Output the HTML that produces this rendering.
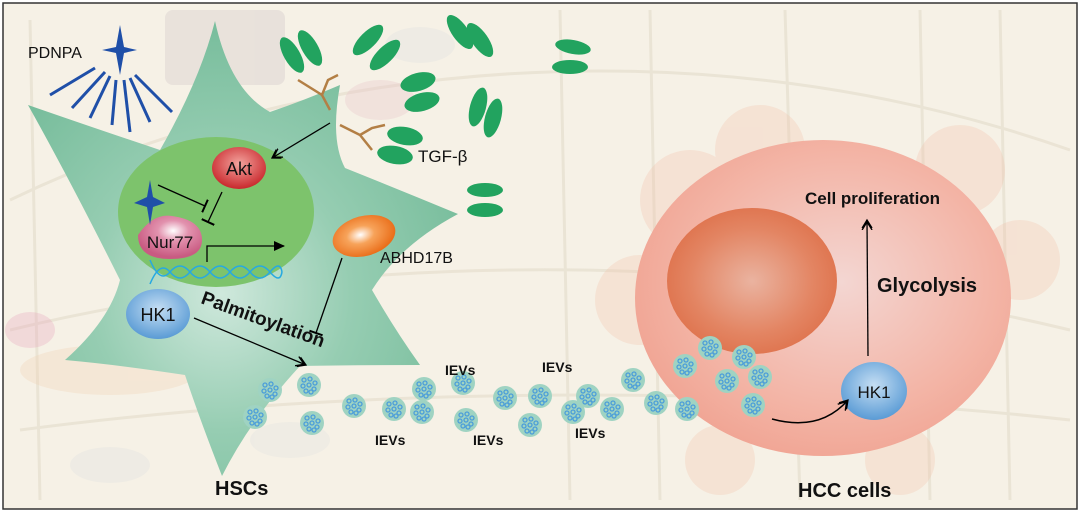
<!DOCTYPE html>
<html><head><meta charset="utf-8"><style>
html,body{margin:0;padding:0;background:#fff}
svg{display:block}
text{font-family:"Liberation Sans",Arial,sans-serif}
</style></head><body>
<svg width="1080" height="512" viewBox="0 0 1080 512" xmlns="http://www.w3.org/2000/svg">
<defs>
<radialGradient id="cellG" cx="0.45" cy="0.6" r="0.6"><stop offset="0" stop-color="#cfe8dc"/><stop offset="0.5" stop-color="#96cdb2"/><stop offset="1" stop-color="#78bd9c"/></radialGradient>
<radialGradient id="hccG" cx="0.55" cy="0.45" r="0.6"><stop offset="0" stop-color="#f3d6d2"/><stop offset="0.7" stop-color="#f3b3a4"/><stop offset="1" stop-color="#f0a392"/></radialGradient>
<radialGradient id="nucG" cx="0.5" cy="0.5" r="0.6"><stop offset="0" stop-color="#eab3a0"/><stop offset="0.6" stop-color="#e38563"/><stop offset="1" stop-color="#dd6c45"/></radialGradient>
<radialGradient id="aktG" cx="0.5" cy="0.4" r="0.6"><stop offset="0" stop-color="#f3a49e"/><stop offset="1" stop-color="#c9272c"/></radialGradient>
<radialGradient id="nurG" cx="0.55" cy="0.35" r="0.6"><stop offset="0" stop-color="#ffffff"/><stop offset="0.4" stop-color="#e292ae"/><stop offset="1" stop-color="#c95b82"/></radialGradient>
<radialGradient id="hkG" cx="0.5" cy="0.4" r="0.6"><stop offset="0" stop-color="#c5def3"/><stop offset="1" stop-color="#5a9bd5"/></radialGradient>
<radialGradient id="abG" cx="0.45" cy="0.45" r="0.55"><stop offset="0" stop-color="#ffffff"/><stop offset="0.4" stop-color="#f7a35a"/><stop offset="1" stop-color="#ea6f1b"/></radialGradient>
<g id="ev"><ellipse cx="0" cy="0" rx="12" ry="12" fill="#9fd3c2"/><g fill="none" stroke="#4c9ed9" stroke-width="1.3"><circle cx="-5" cy="-5" r="2"/><circle cx="1" cy="-6" r="2"/><circle cx="6" cy="-2" r="2"/><circle cx="-6" cy="1" r="2"/><circle cx="0" cy="0" r="2"/><circle cx="5" cy="4" r="2"/><circle cx="-3" cy="6" r="2"/><circle cx="2" cy="7" r="2"/></g></g>
<marker id="dbl" markerWidth="12" markerHeight="12" refX="10" refY="6" orient="auto" markerUnits="userSpaceOnUse"><path d="M2,1 L10,6 L2,11 M0,1 L8,6 L0,11" fill="none" stroke="#000" stroke-width="1.3"/></marker>
<marker id="tri" markerWidth="12" markerHeight="10" refX="10" refY="5" orient="auto" markerUnits="userSpaceOnUse"><path d="M0,0 L11,5 L0,10 z" fill="#000"/></marker>
<marker id="tee" markerWidth="4" markerHeight="14" refX="2" refY="7" orient="auto" markerUnits="userSpaceOnUse"><path d="M2,0 L2,14" stroke="#000" stroke-width="2"/></marker>
</defs>
<rect x="0" y="0" width="1080" height="512" fill="#fff"/>
<rect x="3" y="3" width="1074" height="506" fill="#f6f1e6" stroke="#333" stroke-width="1.5"/>
<g opacity="0.45" fill="none" stroke="#ddd5c2" stroke-width="3">
<path d="M10,200 C300,60 700,20 1070,150"/><path d="M10,330 C300,260 700,240 1070,330"/><path d="M20,430 C400,380 800,390 1070,420"/>
<path d="M650,10 L660,500"/><path d="M785,10 L800,500"/><path d="M920,10 L930,500"/><path d="M1000,10 L1010,500"/><path d="M560,10 L570,500"/><path d="M30,20 L40,500"/>
</g>
<g opacity="0.3">
<rect x="165" y="10" width="120" height="75" rx="8" fill="#c9bfc3"/>
<circle cx="760" cy="150" r="45" fill="#f3c2ab"/><circle cx="690" cy="200" r="50" fill="#f3c2ab"/><circle cx="960" cy="170" r="45" fill="#f3c2ab"/><circle cx="1020" cy="260" r="40" fill="#f3c2ab"/>
<circle cx="640" cy="300" r="45" fill="#f3c2ab"/><circle cx="900" cy="460" r="35" fill="#f3c2ab"/><circle cx="720" cy="460" r="35" fill="#f3c2ab"/>
<ellipse cx="110" cy="370" rx="90" ry="25" fill="#f2d2b2"/><ellipse cx="30" cy="330" rx="25" ry="18" fill="#e8a5bd"/>
<ellipse cx="380" cy="100" rx="35" ry="20" fill="#e8c0c8"/>
<ellipse cx="420" cy="45" rx="35" ry="18" fill="#dde0e0"/><ellipse cx="110" cy="465" rx="40" ry="18" fill="#dde0e0"/><ellipse cx="290" cy="440" rx="40" ry="18" fill="#dde0e0"/>
</g>
<path d="M215,21 Q230,90 270,112 Q305,100 340,85 Q330,140 345,168 Q400,190 458,214 Q400,245 372,290 Q395,330 420,365 Q340,365 300,366 Q250,420 222,476 Q200,420 185,375 Q120,365 65,360 Q110,320 120,280 Q70,180 28,105 Q100,130 160,150 Q200,80 215,21 Z" fill="url(#cellG)"/>
<ellipse cx="216" cy="212" rx="98" ry="75" fill="#7dc36c"/>
<g fill="#22a35f">
<ellipse cx="292" cy="55" rx="8" ry="20" transform="rotate(-30 292 55)"/><ellipse cx="310" cy="48" rx="8" ry="20" transform="rotate(-30 310 48)"/>
<ellipse cx="368" cy="40" rx="8" ry="20" transform="rotate(45 368 40)"/><ellipse cx="385" cy="55" rx="8" ry="20" transform="rotate(45 385 55)"/>
<ellipse cx="480" cy="40" rx="8" ry="20" transform="rotate(-35 480 40)"/><ellipse cx="460" cy="32" rx="8" ry="20" transform="rotate(-35 460 32)"/>
<ellipse cx="418" cy="82" rx="18" ry="9" transform="rotate(-15 418 82)"/><ellipse cx="422" cy="102" rx="18" ry="9" transform="rotate(-15 422 102)"/>
<ellipse cx="478" cy="107" rx="8" ry="20" transform="rotate(15 478 107)"/><ellipse cx="493" cy="118" rx="8" ry="20" transform="rotate(15 493 118)"/>
<ellipse cx="405" cy="136" rx="18" ry="9" transform="rotate(10 405 136)"/><ellipse cx="395" cy="155" rx="18" ry="9" transform="rotate(10 395 155)"/>
<ellipse cx="485" cy="190" rx="18" ry="7"/><ellipse cx="485" cy="210" rx="18" ry="7"/>
<ellipse cx="573" cy="47" rx="18" ry="7" transform="rotate(10 573 47)"/><ellipse cx="570" cy="67" rx="18" ry="7"/>
</g>
<g stroke="#b37f45" stroke-width="2.5" fill="none">
<path d="M298,80 L322,95 L330,110 M322,95 L328,80 L338,75"/>
<path d="M340,125 L360,135 L372,150 M360,135 L372,128 L385,125"/>
</g>
<text x="418" y="162" font-size="17" fill="#111">TGF-β</text>
<text x="28" y="58" font-size="16" fill="#111">PDNPA</text>
<path d="M120,25 L124,47 L137,50 L124,53 L120,75 L116,53 L102,50 L116,47 Z" fill="#1f4fa8"/>
<g stroke="#1f4fa8" stroke-width="3">
<line x1="95" y1="68" x2="50" y2="95"/><line x1="105" y1="72" x2="72" y2="108"/><line x1="110" y1="76" x2="90" y2="118"/><line x1="116" y1="80" x2="112" y2="125"/><line x1="124" y1="80" x2="130" y2="132"/><line x1="130" y1="78" x2="150" y2="122"/><line x1="135" y1="75" x2="172" y2="112"/>
</g>
<line x1="330" y1="123" x2="272" y2="158" stroke="#000" stroke-width="1.3" marker-end="url(#dbl)"/>
<ellipse cx="239" cy="168" rx="27" ry="21" fill="url(#aktG)"/>
<text x="239" y="175" font-size="18" fill="#111" text-anchor="middle">Akt</text>
<line x1="158" y1="185" x2="205" y2="206" stroke="#000" stroke-width="1.3" marker-end="url(#tee)"/>
<line x1="222" y1="192" x2="208" y2="222" stroke="#000" stroke-width="1.3" marker-end="url(#tee)"/>
<path d="M138,235 Q153,213 172,216 Q202,220 202,240 Q202,259 170,259 Q138,259 138,235 Z" fill="url(#nurG)"/>
<text x="170" y="248" font-size="17" fill="#111" text-anchor="middle">Nur77</text>
<path d="M150,180 L153,197 L165,203 L153,207 L150,225 L147,207 L134,203 L147,197 Z" fill="#1f4fa8"/>
<path d="M207,262 L207,246 L284,246" fill="none" stroke="#000" stroke-width="1.3" marker-end="url(#tri)"/>
<g fill="none" stroke="#27a9e1" stroke-width="1.5">
<path d="M150,260 Q160,284 170,272 T190,272 T210,272 T230,272 T250,272 T270,272 T282,272"/>
<path d="M150,284 Q160,260 170,272 T190,272 T210,272 T230,272 T250,272 T270,272 T282,272"/>
</g>
<ellipse cx="364" cy="236" rx="32" ry="20" transform="rotate(-15 364 236)" fill="url(#abG)"/>
<text x="380" y="263" font-size="16" fill="#111">ABHD17B</text>
<line x1="342" y1="258" x2="316" y2="333" stroke="#000" stroke-width="1.3" marker-end="url(#tee)"/>
<ellipse cx="158" cy="314" rx="32" ry="25" fill="url(#hkG)"/>
<text x="158" y="321" font-size="18" fill="#111" text-anchor="middle">HK1</text>
<line x1="194" y1="318" x2="306" y2="365" stroke="#000" stroke-width="1.3" marker-end="url(#dbl)"/>
<text x="0" y="0" font-size="19" font-weight="bold" fill="#111" transform="translate(200,303) rotate(20)">Palmitoylation</text>
<text x="215" y="495" font-size="20" font-weight="bold" fill="#111">HSCs</text>
<ellipse cx="823" cy="298" rx="188" ry="158" fill="url(#hccG)"/>
<ellipse cx="752" cy="281" rx="85" ry="73" fill="url(#nucG)"/>
<text x="805" y="204" font-size="17" font-weight="bold" fill="#111">Cell proliferation</text>
<line x1="868" y1="356" x2="867" y2="220" stroke="#000" stroke-width="1.3" marker-end="url(#dbl)"/>
<text x="877" y="292" font-size="20" font-weight="bold" fill="#111">Glycolysis</text>
<ellipse cx="874" cy="391" rx="33" ry="29" fill="url(#hkG)"/>
<text x="874" y="398" font-size="17" fill="#111" text-anchor="middle">HK1</text>
<path d="M772,419 Q820,432 848,400" fill="none" stroke="#000" stroke-width="1.5" marker-end="url(#dbl)"/>
<text x="798" y="497" font-size="20" font-weight="bold" fill="#111">HCC cells</text>
<use href="#ev" x="270" y="390"/><use href="#ev" x="309" y="385"/><use href="#ev" x="255" y="417"/><use href="#ev" x="312" y="423"/>
<use href="#ev" x="354" y="406"/><use href="#ev" x="394" y="409"/><use href="#ev" x="424" y="389"/><use href="#ev" x="422" y="412"/>
<use href="#ev" x="463" y="383"/><use href="#ev" x="466" y="420"/><use href="#ev" x="505" y="398"/><use href="#ev" x="540" y="396"/>
<use href="#ev" x="530" y="425"/><use href="#ev" x="573" y="412"/><use href="#ev" x="588" y="396"/><use href="#ev" x="612" y="409"/>
<use href="#ev" x="633" y="380"/><use href="#ev" x="656" y="403"/><use href="#ev" x="687" y="409"/><use href="#ev" x="685" y="366"/>
<use href="#ev" x="710" y="348"/><use href="#ev" x="744" y="357"/><use href="#ev" x="727" y="381"/><use href="#ev" x="760" y="377"/><use href="#ev" x="753" y="405"/>
<g font-size="14" font-weight="bold" fill="#111">
<text x="445" y="375">IEVs</text><text x="375" y="445">IEVs</text><text x="473" y="445">IEVs</text><text x="542" y="372">IEVs</text><text x="575" y="438">IEVs</text>
</g>
</svg>
</body></html>
